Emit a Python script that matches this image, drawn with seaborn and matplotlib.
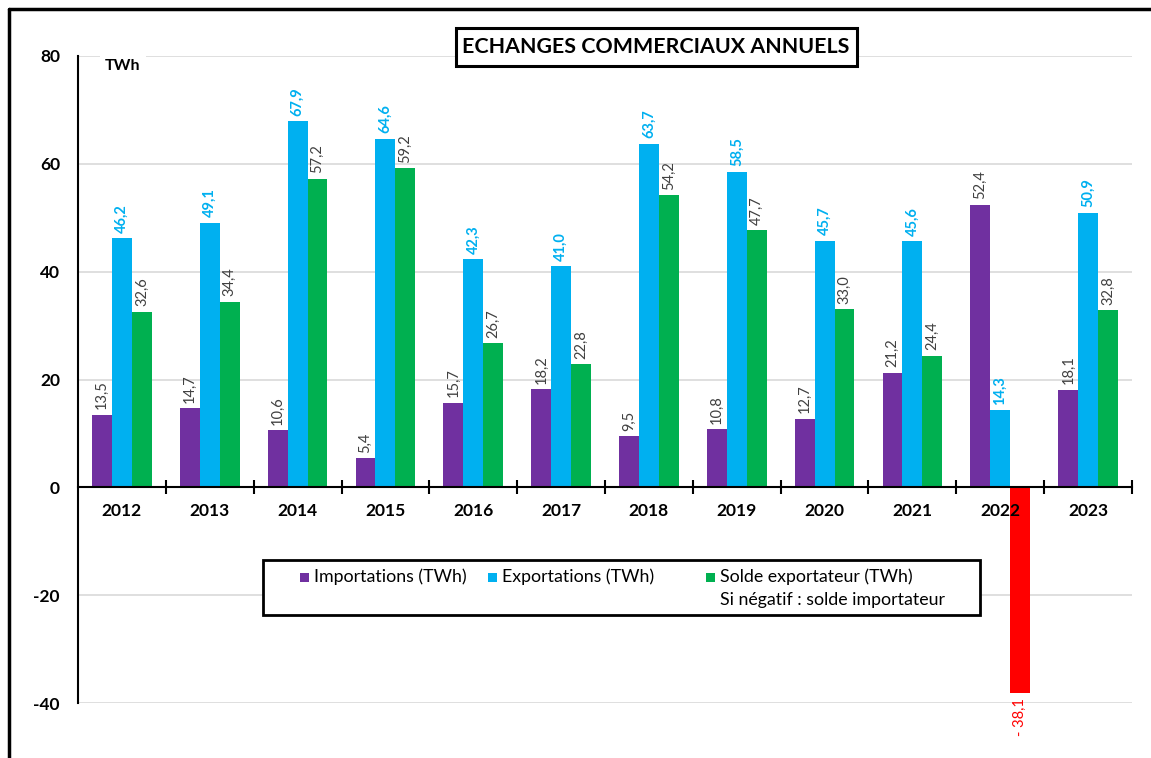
import matplotlib
matplotlib.use("Agg")
import matplotlib.pyplot as plt
from matplotlib.patches import Rectangle
from matplotlib.lines import Line2D
from matplotlib.ticker import FixedLocator, NullFormatter
import numpy as np
import pandas as pd
import seaborn as sns

# Annual cross-border electricity exchanges (TWh)
years = ["2012", "2013", "2014", "2015", "2016", "2017",
         "2018", "2019", "2020", "2021", "2022", "2023"]
imports_twh = [13.5, 14.7, 10.6, 5.4, 15.7, 18.2, 9.5, 10.8, 12.7, 21.2, 52.4, 18.1]
exports_twh = [46.2, 49.1, 67.9, 64.6, 42.3, 41.0, 63.7, 58.5, 45.7, 45.6, 14.3, 50.9]
balance_twh = [32.6, 34.4, 57.2, 59.2, 26.7, 22.8, 54.2, 47.7, 33.0, 24.4, -38.1, 32.8]

series_names = ["Importations (TWh)", "Exportations (TWh)", "Solde exportateur (TWh)"]
series_colors = ["#7030A0", "#00B0F0", "#00B050"]
negative_color = "#FF0000"
y_ticks = [-40, -20, 0, 20, 40, 60, 80]

df = pd.DataFrame({
    "year": years * 3,
    "series": np.repeat(series_names, len(years)),
    "value": imports_twh + exports_twh + balance_twh,
})

W, H = 1151, 758
sns.set_theme(style="white")
plt.rcParams["font.family"] = ["Lato", "DejaVu Sans"]

fig = plt.figure(figsize=(W / 100, H / 100), dpi=100)
fig.patch.set_facecolor("white")


def fx(x):
    return x / W


def fy(y):
    return 1 - y / H


ax = fig.add_axes([fx(78), fy(703), fx(1132) - fx(78), fy(56) - fy(703)])

sns.barplot(data=df, x="year", y="value", hue="series", order=years,
            hue_order=series_names, palette=series_colors, width=0.68,
            saturation=1, edgecolor="none", linewidth=0, legend=False, ax=ax)

ax.set_xlim(-0.5, len(years) - 0.5)
ax.set_ylim(-40, 80)
ax.set_xlabel("")
ax.set_ylabel("")

# Gridlines (except the zero line, which is the category axis)
for v in y_ticks:
    if v != 0:
        ax.axhline(v, color="#d9d9d9", lw=1.2, zorder=0)

# Spines
for s in ["top", "right"]:
    ax.spines[s].set_visible(False)
ax.spines["left"].set_color("black")
ax.spines["left"].set_linewidth(1.5)
ax.spines["bottom"].set_position(("data", 0))
ax.spines["bottom"].set_color("black")
ax.spines["bottom"].set_linewidth(1.5)
ax.spines["bottom"].set_zorder(1)

ax.set_yticks(y_ticks)
ax.set_yticklabels([str(v) for v in y_ticks])
ax.tick_params(axis="y", direction="inout", length=12, width=1.5, color="black",
               pad=7, labelsize=12.5, labelcolor="black")
for lab in ax.get_yticklabels():
    lab.set_fontweight("bold")

ax.tick_params(axis="x", which="major", length=0, pad=11, labelsize=12.5,
               labelcolor="black")
for lab in ax.get_xticklabels():
    lab.set_fontweight("bold")
ax.xaxis.set_minor_locator(FixedLocator(np.arange(0.5, len(years), 1.0)))
ax.xaxis.set_minor_formatter(NullFormatter())
ax.tick_params(axis="x", which="minor", direction="inout", length=10, width=1.5,
               color="black", bottom=True)
# Year labels sit on top of the bars that cross the axis
ax.xaxis.set_zorder(5)


def fmt(v):
    s = f"{abs(v):.1f}".replace(".", ",")
    return ("- " + s) if v < 0 else s


label_styles = [("#404040", "normal"), ("#00B0F0", "bold"), ("#404040", "normal")]
for container, vals, (col, wt) in zip(ax.containers,
                                      [imports_twh, exports_twh, balance_twh],
                                      label_styles):
    for bar, v in zip(container, vals):
        if v < 0:
            bar.set_facecolor(negative_color)
            ax.annotate(fmt(v), (bar.get_x() + bar.get_width() / 2, v),
                        xytext=(0, -4), textcoords="offset points",
                        ha="center", va="top", rotation=90, fontsize=10.5,
                        color=negative_color, annotation_clip=False)
        else:
            ax.annotate(fmt(v), (bar.get_x() + bar.get_width() / 2, v),
                        xytext=(0, 4), textcoords="offset points",
                        ha="center", va="bottom", rotation=90, fontsize=10.5,
                        color=col, fontweight=wt)

# Unit label
ax.text(-0.19, 78.1, "TWh", ha="left", va="center", fontsize=11.5,
        fontweight="bold", color="black",
        bbox=dict(boxstyle="square,pad=0.3", fc="white", ec="none"))

# Title box
fig.patches.append(Rectangle((fx(456), fy(66)), fx(857) - fx(456), fy(28) - fy(66),
                             transform=fig.transFigure, fc="white", ec="black",
                             lw=2.2, zorder=3))
fig.text(fx(656), fy(47), "ECHANGES COMMERCIAUX ANNUELS", ha="center",
         va="center", fontsize=15.4, fontweight="bold", color="black", zorder=4)

# Legend box
fig.patches.append(Rectangle((fx(263), fy(615)), fx(980) - fx(263), fy(560) - fy(615),
                             transform=fig.transFigure, fc="white", ec="black",
                             lw=2, zorder=3))
legend_items = [(300, series_names[0], series_colors[0]),
                (488, series_names[1], series_colors[1]),
                (706, series_names[2], series_colors[2])]
for x0, name, col in legend_items:
    fig.patches.append(Rectangle((fx(x0), fy(582)), fx(9), 9 / H,
                                 transform=fig.transFigure, fc=col, ec="none",
                                 zorder=4))
    fig.text(fx(x0 + 14), fy(577), name, ha="left", va="center", fontsize=12.8,
             color="black", zorder=5)
fig.text(fx(720), fy(600), "Si négatif : solde importateur", ha="left",
         va="center", fontsize=12.8, color="black", zorder=5)

# Outer frame (top and left edges)
fig.add_artist(Line2D([fx(9), 1], [fy(9), fy(9)], color="black", lw=2.5,
                      transform=fig.transFigure))
fig.add_artist(Line2D([fx(9), fx(9)], [fy(9), 0], color="black", lw=2.5,
                      transform=fig.transFigure))

fig.savefig("out.png", dpi=100)
